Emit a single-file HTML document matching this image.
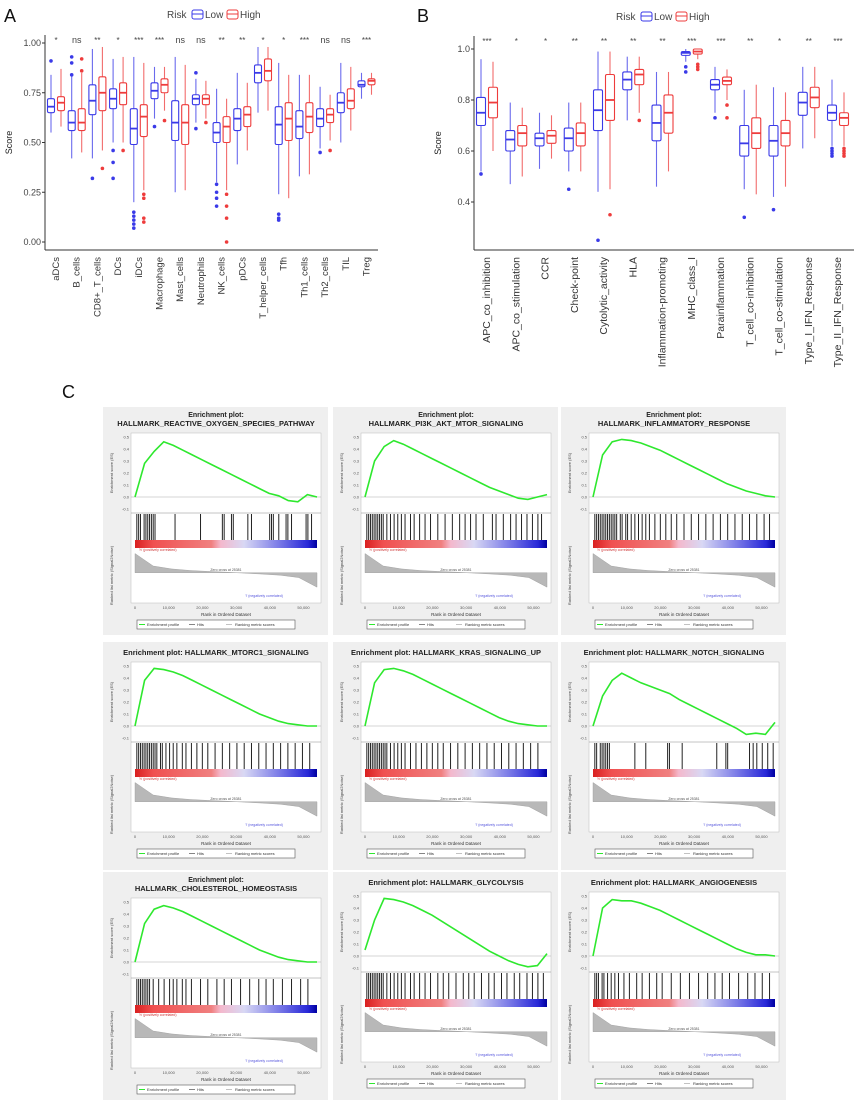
<!DOCTYPE html>
<html><head><meta charset="utf-8"><style>
body{margin:0;background:#fff;}
svg{display:block;font-family:"Liberation Sans",sans-serif;}
</style></head><body>
<svg id="fig" width="860" height="1109" viewBox="0 0 860 1109" xmlns="http://www.w3.org/2000/svg">
<rect width="860" height="1109" fill="#fff"/>
<text x="4" y="22" font-size="18" fill="#111">A</text>
<text x="417" y="22" font-size="18" fill="#111">B</text>
<text x="62" y="398" font-size="18" fill="#111">C</text>
<g id="gA"></g>
<g id="gB"></g>
<g id="gC"></g>
</svg>
<script>
// ---- Panel A data ----
const catsA=["aDCs","B_cells","CD8+_T_cells","DCs","iDCs","Macrophage","Mast_cells","Neutrophils","NK_cells","pDCs","T_helper_cells","Tfh","Th1_cells","Th2_cells","TIL","Treg"];
const sigA=["*","ns","**","*","***","***","ns","ns","**","**","*","*","***","ns","ns","***"];
// [whiskerLo, q1, median, q3, whiskerHi]
const lowA=[[.55,.65,.68,.72,.84],[.42,.56,.60,.66,.84],[.42,.64,.71,.79,.97],[.50,.67,.72,.77,.92],[.20,.49,.57,.67,.93],[.62,.72,.76,.80,.88],[.25,.51,.60,.71,.93],[.60,.69,.72,.74,.82],[.30,.50,.55,.60,.77],[.39,.56,.62,.67,.85],[.65,.80,.85,.89,.98],[.24,.49,.59,.68,.90],[.33,.52,.58,.66,.84],[.47,.58,.62,.67,.78],[.50,.65,.70,.75,.90],[.72,.78,.79,.81,.85]];
const highA=[[.58,.66,.70,.73,.87],[.45,.56,.60,.67,.85],[.46,.66,.75,.83,.98],[.50,.69,.75,.80,.93],[.26,.53,.63,.69,.90],[.66,.75,.79,.82,.88],[.26,.49,.60,.69,.89],[.62,.69,.72,.74,.81],[.26,.50,.58,.63,.72],[.46,.58,.64,.68,.80],[.66,.81,.86,.92,.98],[.22,.51,.62,.70,.84],[.34,.55,.63,.70,.84],[.51,.60,.64,.67,.74],[.56,.67,.71,.77,.88],[.74,.79,.81,.82,.85]];
const outLowA=[[.91],[.93,.90,.84],[.32],[.46,.40,.32],[.07,.09,.11,.13,.15],[.58],[],[.85,.57],[.29,.25,.22,.18],[],[],[.11,.12,.14],[],[.45],[],[]];
const outHighA=[[],[.92,.86],[.37],[.46],[.10,.12,.22,.24],[.61],[],[.60],[.24,.18,.12,0],[],[],[],[],[.46],[],[]];
const ticksA=[0,0.25,0.5,0.75,1.0];
const tickLabA=["0.00","0.25","0.50","0.75","1.00"];
// ---- Panel B data ----
const catsB=["APC_co_inhibition","APC_co_stimulation","CCR","Check-point","Cytolytic_activity","HLA","Inflammation-promoting","MHC_class_I","Parainflammation","T_cell_co-inhibition","T_cell_co-stimulation","Type_I_IFN_Response","Type_II_IFN_Response"];
const sigB=["***","*","*","**","**","**","**","***","***","**","*","**","***"];
const lowB=[[.52,.70,.75,.81,.96],[.47,.60,.645,.68,.79],[.53,.62,.65,.67,.75],[.52,.60,.65,.69,.79],[.44,.68,.76,.84,.99],[.72,.84,.88,.91,.97],[.46,.64,.71,.78,.91],[.95,.975,.985,.99,1.0],[.75,.84,.86,.88,.93],[.45,.58,.63,.70,.84],[.42,.58,.64,.70,.85],[.61,.74,.79,.83,.93],[.62,.72,.75,.78,.88]];
const highB=[[.60,.73,.79,.85,.95],[.50,.62,.67,.70,.77],[.57,.63,.66,.68,.74],[.52,.62,.67,.71,.79],[.45,.72,.80,.90,.99],[.75,.86,.90,.92,.97],[.52,.67,.75,.82,.91],[.96,.98,.99,1.0,1.0],[.80,.86,.875,.89,.92],[.43,.61,.67,.73,.86],[.46,.62,.67,.72,.83],[.65,.77,.81,.85,.93],[.62,.70,.73,.75,.83]];
const outLowB=[[.51],[],[],[.45],[.25],[],[],[.93,.91],[.73],[.34],[.37],[],[.58,.59,.60,.61]];
const outHighB=[[],[],[],[],[.35],[.72],[],[.92,.93,.94],[.78,.73],[],[],[],[.58,.59,.60,.61]];
const ticksB=[0.4,0.6,0.8,1.0];
const tickLabB=["0.4","0.6","0.8","1.0"];

const NS="http://www.w3.org/2000/svg";
function mk(parent,tag,attrs,txt){const e=document.createElementNS(NS,tag);for(const k in attrs)e.setAttribute(k,attrs[k]);if(txt!==undefined)e.textContent=txt;parent.appendChild(e);return e;}

function boxChart(g,cfg){
  const {cats,sig,low,high,outLow,outHigh,ticks,tickLab,x0,xStep,yOf,axX,axY,axRight,axTop,legX,legY,bw,off,labSize}=cfg;
  const ax=mk(g,'line',{x1:axX,y1:axTop,x2:axX,y2:axY,stroke:'#333','stroke-width':1});
  
  
  const bx=mk(g,'line',{x1:axX,y1:axY,x2:axRight,y2:axY,stroke:'#333','stroke-width':1});
  
  
  ticks.forEach((t,i)=>{
    const y=yOf(t);
    mk(g,'line',{x1:axX-3,y1:y,x2:axX,y2:y,stroke:'#333'});
    const tl=mk(g,'text',{x:axX-4,y:y+3,'font-size':9,'text-anchor':'end',fill:'#444'},tickLab[i]);
    
    
  });
  const yt=mk(g,'text',{x:0,y:0,'font-size':9,'text-anchor':'middle',fill:'#222',transform:`translate(${axX-33},${(axTop+axY)/2}) rotate(-90)`},'Score');
  
  
  function drawBox(cx,d,outs,col){
    const [wl,q1,md,q3,wh]=d;
    const bg=mk(g,'g',{});
    
    
    mk(bg,'line',{x1:cx,y1:yOf(wh),x2:cx,y2:yOf(q3),stroke:col,'stroke-width':1.1,opacity:.75});
    mk(bg,'line',{x1:cx,y1:yOf(q1),x2:cx,y2:yOf(wl),stroke:col,'stroke-width':1.1,opacity:.75});
    mk(bg,'rect',{x:cx-bw/2,y:yOf(q3),width:bw,height:Math.max(1,yOf(q1)-yOf(q3)),fill:'#fff',stroke:col,'stroke-width':1.1,rx:1.5});
    mk(bg,'line',{x1:cx-bw/2,y1:yOf(md),x2:cx+bw/2,y2:yOf(md),stroke:col,'stroke-width':1.8});
    outs.forEach(o=>mk(bg,'circle',{cx:cx,cy:yOf(o),r:1.8,fill:col}));
  }
  cats.forEach((c,i)=>{
    const cx=x0+i*xStep;
    drawBox(cx-off,low[i],outLow[i],'#3a3ae8');
    drawBox(cx+off,high[i],outHigh[i],'#ee3c3c');
    const s=mk(g,'text',{x:cx,y:axTop+8,'font-size':sig[i]==='ns'?9:8,'text-anchor':'middle',fill:'#444'},sig[i]);
    
    
    const xl=mk(g,'text',{x:0,y:0,'font-size':labSize,'text-anchor':'end',fill:'#333',transform:`translate(${cx+3},${axY+7}) rotate(-90)`},c);
    
    
  });
  const lg=mk(g,'g',{});
  
  
  mk(lg,'text',{x:legX,y:legY+4,'font-size':10,fill:'#444'},'Risk');
  mk(lg,'rect',{x:legX+25,y:legY-4,width:11,height:9,fill:'#fff',stroke:'#3a3ae8',rx:2});
  mk(lg,'line',{x1:legX+25,y1:legY,x2:legX+36,y2:legY,stroke:'#3a3ae8'});
  mk(lg,'text',{x:legX+38,y:legY+4,'font-size':10,fill:'#444'},'Low');
  mk(lg,'rect',{x:legX+60,y:legY-4,width:11,height:9,fill:'#fff',stroke:'#ee3c3c',rx:2});
  mk(lg,'line',{x1:legX+60,y1:legY,x2:legX+71,y2:legY,stroke:'#ee3c3c'});
  mk(lg,'text',{x:legX+73,y:legY+4,'font-size':10,fill:'#444'},'High');
}
boxChart(document.getElementById('gA'),{cats:catsA,sig:sigA,low:lowA,high:highA,outLow:outLowA,outHigh:outHighA,ticks:ticksA,tickLab:tickLabA,
 x0:56,xStep:20.7,yOf:v=>242-v*199,axX:45,axY:250,axRight:378,axTop:35,legX:167,legY:14,bw:7,off:5,labSize:9.5});
boxChart(document.getElementById('gB'),{cats:catsB,sig:sigB,low:lowB,high:highB,outLow:outLowB,outHigh:outHighB,ticks:ticksB,tickLab:tickLabB,
 x0:487,xStep:29.25,yOf:v=>49+(1-v)*255,axX:474,axY:250,axRight:854,axTop:36,legX:616,legY:16,bw:9,off:6,labSize:10.5});

// ---- Panel C data (GSEA) ----
const gseaTitles=[["Enrichment plot:","HALLMARK_REACTIVE_OXYGEN_SPECIES_PATHWAY"],["Enrichment plot:","HALLMARK_PI3K_AKT_MTOR_SIGNALING"],["Enrichment plot:","HALLMARK_INFLAMMATORY_RESPONSE"],["Enrichment plot: HALLMARK_MTORC1_SIGNALING"],["Enrichment plot: HALLMARK_KRAS_SIGNALING_UP"],["Enrichment plot: HALLMARK_NOTCH_SIGNALING"],["Enrichment plot:","HALLMARK_CHOLESTEROL_HOMEOSTASIS"],["Enrichment plot: HALLMARK_GLYCOLYSIS"],["Enrichment plot: HALLMARK_ANGIOGENESIS"]];
// running ES sampled at 20 evenly spaced ranks (domain -0.1..0.5)
const esCurves=[
 [0,0.28,0.38,0.46,0.43,0.39,0.35,0.31,0.27,0.23,0.19,0.15,0.11,0.07,0.03,0.01,-0.03,-0.04,0.02,0],
 [0,0.30,0.42,0.47,0.44,0.40,0.36,0.32,0.28,0.24,0.20,0.16,0.12,0.08,0.05,0.02,-0.01,-0.02,0,0.02],
 [0,0.35,0.46,0.48,0.47,0.45,0.42,0.39,0.35,0.31,0.27,0.23,0.19,0.15,0.11,0.08,0.05,0.03,0.01,0],
 [0,0.38,0.48,0.47,0.45,0.42,0.38,0.34,0.30,0.26,0.22,0.18,0.14,0.10,0.07,0.04,0.02,0.01,0,0],
 [0,0.36,0.47,0.48,0.46,0.43,0.39,0.35,0.31,0.27,0.23,0.19,0.15,0.11,0.07,0.04,0.02,0.01,0,0],
 [0,0.25,0.38,0.44,0.40,0.36,0.33,0.30,0.27,0.22,0.18,0.14,0.10,0.06,0.02,-0.02,-0.07,-0.06,-0.07,0.03],
 [0,0.32,0.44,0.47,0.45,0.42,0.38,0.34,0.30,0.26,0.22,0.18,0.14,0.10,0.07,0.04,0.02,0.01,0,0],
 [0.05,0.30,0.48,0.47,0.45,0.42,0.38,0.34,0.29,0.24,0.19,0.14,0.09,0.04,0,-0.04,-0.07,-0.09,-0.08,0.02],
 [0,0.40,0.47,0.46,0.46,0.44,0.41,0.38,0.34,0.30,0.26,0.22,0.18,0.14,0.10,0.06,0.03,0.01,0.01,0]];
// hit positions as rank fraction 0..1
const hitSets=[
 [.01,.02,.03,.05,.06,.07,.08,.09,.10,.11,.22,.36,.48,.49,.53,.54,.62,.64,.74,.75,.76,.79,.83,.84,.86,.94,.95,.97],
 [.01,.02,.03,.04,.05,.06,.07,.08,.09,.10,.12,.14,.16,.18,.20,.22,.25,.27,.30,.33,.36,.40,.44,.48,.52,.55,.58,.61,.65,.70,.72,.76,.80,.83,.86,.89,.92,.95,.97],
 [.01,.02,.03,.04,.05,.06,.07,.08,.09,.10,.11,.12,.13,.15,.16,.18,.19,.21,.23,.25,.27,.29,.31,.34,.37,.40,.43,.46,.50,.54,.58,.62,.66,.70,.74,.78,.82,.86,.90,.94,.97],
 [.01,.02,.03,.04,.05,.06,.07,.08,.09,.10,.11,.12,.14,.15,.17,.19,.21,.23,.26,.28,.31,.34,.37,.40,.44,.48,.52,.56,.60,.64,.68,.72,.76,.80,.84,.88,.92,.96],
 [.01,.02,.03,.04,.05,.06,.07,.08,.09,.10,.11,.12,.14,.16,.18,.20,.22,.25,.28,.31,.34,.37,.40,.43,.47,.51,.55,.59,.63,.67,.71,.75,.79,.83,.87,.91,.95],
 [.01,.02,.04,.05,.06,.07,.08,.09,.23,.29,.41,.42,.49,.68,.73,.74,.86,.88,.90,.93,.96,.99],
 [.01,.02,.03,.04,.05,.06,.07,.08,.10,.13,.16,.19,.21,.23,.26,.28,.31,.36,.40,.45,.49,.53,.58,.63,.68,.72,.76,.81,.86,.91,.95],
 [.01,.02,.03,.04,.05,.06,.07,.08,.09,.10,.12,.14,.16,.18,.20,.22,.25,.27,.30,.33,.36,.40,.43,.46,.50,.54,.57,.60,.64,.68,.71,.75,.78,.82,.85,.89,.92,.95,.98],
 [.01,.02,.03,.05,.06,.08,.10,.12,.14,.17,.20,.24,.27,.31,.35,.38,.43,.48,.53,.58,.63,.67,.71,.75,.80,.85,.89,.93,.97]];
// ranked list metric sampled at 11 ranks
const rankMetric=[1.0,0.35,0.2,0.12,0.07,0.03,-0.02,-0.07,-0.13,-0.25,-0.75];
const rankTickLab=["0","10,000","20,000","30,000","40,000","50,000"];
const panelPos=[[103,407],[333,407],[561,407],[103,642],[333,642],[561,642],[103,872],[333,872],[561,872]];

const gC=document.getElementById('gC');
panelPos.forEach((p,k)=>{
  const [x0,y0]=p;
  const pg=mk(gC,'g',{});
  
  
  mk(pg,'rect',{x:x0,y:y0,width:225,height:228,fill:'#efefef'});
  const t=gseaTitles[k];
  t.forEach((ln,j)=>{
    const tt=mk(pg,'text',{x:x0+113,y:y0+(t.length===2?10+j*9:13),'font-size':t.length===2&&j===0?7:7.5,'font-weight':'bold','text-anchor':'middle',fill:'#222'},ln);
    
    
  });
  const px=x0+28,pw=190,top=y0+(t.length===2?26:20);
  const esH=80,hitH=27,bandH=8,rankH=55;
  mk(pg,'rect',{x:px,y:top,width:pw,height:esH+hitH+bandH+rankH,fill:'#fff',stroke:'#bbb','stroke-width':.5});
  const esY=v=>top+4+(0.5-v)/0.6*(esH-8);
  mk(pg,'line',{x1:px,y1:esY(0),x2:px+pw,y2:esY(0),stroke:'#aaa','stroke-width':.5});
  [-0.1,0,0.1,0.2,0.3,0.4,0.5].forEach(v=>mk(pg,'text',{x:px-2,y:esY(v)+1.5,'font-size':4,'text-anchor':'end',fill:'#555'},v.toFixed(1)));
  mk(pg,'text',{x:0,y:0,'font-size':4,'text-anchor':'middle',fill:'#444',transform:`translate(${x0+10},${top+esH/2}) rotate(-90)`},'Enrichment score (ES)');
  const es=esCurves[k];
  const pts=es.map((v,i)=>`${px+4+i/(es.length-1)*(pw-8)},${esY(v)}`).join(' ');
  const cl=mk(pg,'polyline',{points:pts,fill:'none',stroke:'#2ee82e','stroke-width':1.6});
  
  
  mk(pg,'line',{x1:px,y1:top+esH,x2:px+pw,y2:top+esH,stroke:'#888','stroke-width':.5});
  hitSets[k].forEach(h=>{
    const hl=mk(pg,'line',{x1:px+4+h*(pw-8),y1:top+esH+1,x2:px+4+h*(pw-8),y2:top+esH+hitH,stroke:'#222','stroke-width':1});
    
    
  });
  const gid='band'+k;
  const defs=mk(pg,'defs',{});
  const lgd=mk(defs,'linearGradient',{id:gid,x1:0,x2:1,y1:0,y2:0});
  [[0,'#d92020'],[0.1,'#f05050'],[0.42,'#f08080'],[0.47,'#f4b8cc'],[0.6,'#d8d8f4'],[0.78,'#8080e8'],[0.95,'#2828d8'],[1,'#0000a0']].forEach(s=>mk(lgd,'stop',{offset:s[0],'stop-color':s[1]}));
  const band=mk(pg,'rect',{x:px+4,y:top+esH+hitH,width:pw-8,height:bandH,fill:`url(#${gid})`});
  
  
  const rTop=top+esH+hitH+bandH, base=rTop+rankH*0.45;
  const rY=v=>base-v*rankH*0.35;
  let rp=`${px+4},${base} `;
  rankMetric.forEach((v,i)=>{rp+=`${px+4+i/(rankMetric.length-1)*(pw-8)},${rY(v)} `;});
  rp+=`${px+pw-4},${base}`;
  const ra=mk(pg,'polygon',{points:rp,fill:'#b8b8b8',stroke:'#999','stroke-width':.4});
  
  
  mk(pg,'text',{x:px+pw/2,y:base-2,'font-size':3.5,'text-anchor':'middle',fill:'#555'},'Zero cross at 25381');
  mk(pg,'text',{x:px+pw*0.7,y:rTop+rankH-6,'font-size':3.5,'text-anchor':'middle',fill:'#5555dd'},"'l' (negatively correlated)");
  mk(pg,'text',{x:px+8,y:rTop+3,'font-size':3.5,fill:'#cc3333'},"'h' (positively correlated)");
  mk(pg,'text',{x:0,y:0,'font-size':4,'text-anchor':'middle',fill:'#444',transform:`translate(${x0+10},${rTop+rankH/2}) rotate(-90)`},'Ranked list metric (Signal2Noise)');
  rankTickLab.forEach((l,i)=>mk(pg,'text',{x:px+4+i*(pw-8)/5.4,y:rTop+rankH+6,'font-size':4,'text-anchor':'middle',fill:'#555'},l));
  mk(pg,'text',{x:px+pw/2,y:rTop+rankH+13,'font-size':4.5,'text-anchor':'middle',fill:'#333'},'Rank in Ordered Dataset');
  const lgb=mk(pg,'g',{});
  
  
  const ly=rTop+rankH+17;
  mk(lgb,'rect',{x:px+6,y:ly,width:158,height:9,fill:'#fff',stroke:'#555','stroke-width':.6});
  mk(lgb,'line',{x1:px+8,y1:ly+4.5,x2:px+14,y2:ly+4.5,stroke:'#2ee82e','stroke-width':1});
  mk(lgb,'text',{x:px+16,y:ly+6,'font-size':4,fill:'#333'},'Enrichment profile');
  mk(lgb,'line',{x1:px+58,y1:ly+4.5,x2:px+64,y2:ly+4.5,stroke:'#333','stroke-width':.6});
  mk(lgb,'text',{x:px+66,y:ly+6,'font-size':4,fill:'#333'},'Hits');
  mk(lgb,'line',{x1:px+95,y1:ly+4.5,x2:px+101,y2:ly+4.5,stroke:'#999','stroke-width':.6});
  mk(lgb,'text',{x:px+104,y:ly+6,'font-size':4,fill:'#333'},'Ranking metric scores');
});
</script>
</body></html>
